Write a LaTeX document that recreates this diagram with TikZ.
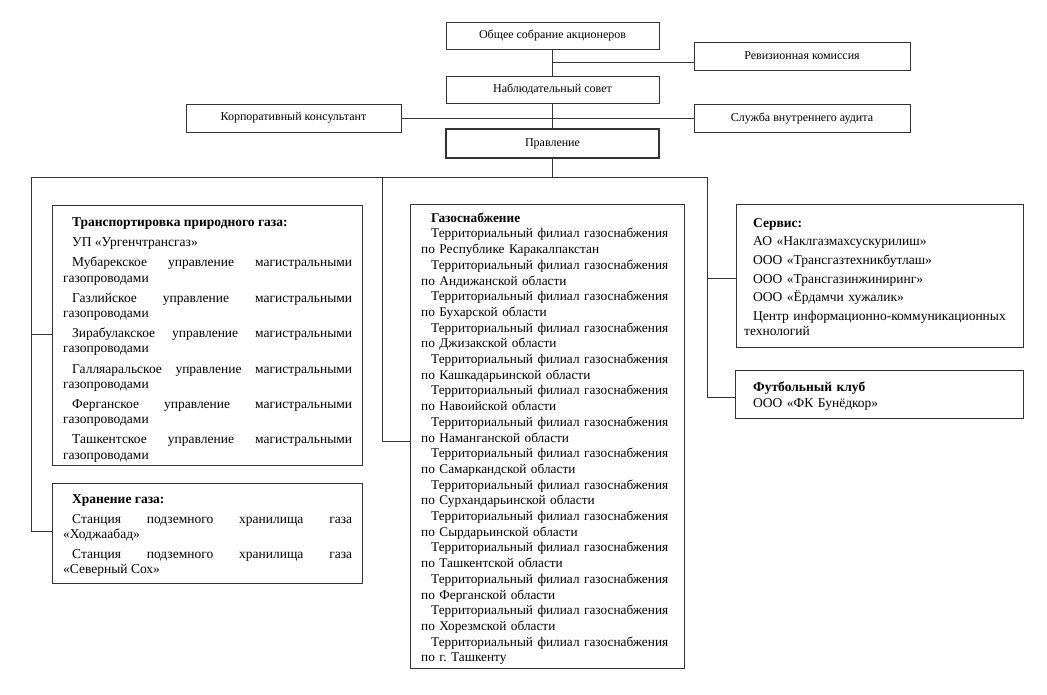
\documentclass[tikz,border=0pt]{standalone}
\usepackage{fontspec}
\setmainfont{Liberation Serif}
\frenchspacing
\newcommand{\ind}{\par\hspace*{9pt}}
\newcommand{\indg}{\par\hspace*{10pt}}
\begin{document}
\begin{tikzpicture}[x=1pt,y=-1pt,
  topbox/.style={draw=black!80, line width=0.7pt, inner sep=0pt, anchor=center, font=\fontsize{12}{14}\selectfont},
  box/.style={draw=black!80, line width=0.7pt, inner sep=0pt, anchor=north west},
  txt/.style={anchor=north west, inner sep=0pt, align=justify, font=\fontsize{13.5}{15.2}\selectfont},
  conn/.style={draw=black!80, line width=0.7pt}]
\useasboundingbox[fill=white] (0,0) rectangle (1047,694);

% top boxes
\node[topbox, minimum width=213pt, minimum height=27pt] (gsm) at (552.5,35.5) {Общее собрание акционеров};
\node[topbox, minimum width=216pt, minimum height=28pt] (rev) at (802,56) {Ревизионная комиссия};
\node[topbox, minimum width=213pt, minimum height=27pt] (nab) at (552.5,89.5) {Наблюдательный совет};
\node[topbox, minimum width=215pt, minimum height=28pt] (korp) at (293.5,118) {Корпоративный консультант};
\node[topbox, minimum width=216pt, minimum height=28pt] (aud) at (802,118) {Служба внутреннего аудита};
\node[topbox, line width=2pt, minimum width=213pt, minimum height=29pt] (prav) at (552.5,143.5) {Правление};

% lower boxes
\node[box, minimum width=310pt, minimum height=260pt] (trans) at (52,205) {};
\node[box, minimum width=310pt, minimum height=100pt] (stor) at (52,483) {};
\node[box, minimum width=274pt, minimum height=464pt] (gas) at (410,204) {};
\node[box, minimum width=287pt, minimum height=143pt] (serv) at (736,204) {};
\node[box, minimum width=288pt, minimum height=48pt] (fut) at (735,370) {};

% texts
\node[txt, text width=289pt] (transT) at (63,217.5) {\setlength\parskip{5pt}\hyphenpenalty=10000 %
\hspace*{9pt}\textbf{Транспортировка природного газа:}
\ind УП «Ургенчтрансгаз»
\ind Мубарекское управление магистральными\linebreak газопроводами
\ind Газлийское управление магистральными\linebreak газопроводами
\ind Зирабулакское управление магистральными\linebreak газопроводами
\ind Галляаральское управление магистральными\linebreak газопроводами
\ind Ферганское управление магистральными\linebreak газопроводами
\ind Ташкентское управление магистральными\linebreak газопроводами\par};

\node[txt, text width=289pt] (storT) at (63,494) {\setlength\parskip{5pt}\hyphenpenalty=10000 %
\hspace*{9pt}\textbf{Хранение газа:}
\ind Станция подземного хранилища газа\linebreak «Ходжаабад»
\ind Станция подземного хранилища газа\linebreak «Северный Сох»\par};

\node[txt, text width=255pt, align=left, font=\fontsize{13.3}{15.7}\selectfont] (gasT) at (421,212.5) {\hspace*{10pt}\textbf{Газоснабжение}
\indg Территориальный филиал газоснабжения\\по Республике Каракалпакстан
\indg Территориальный филиал газоснабжения\\по Андижанской области
\indg Территориальный филиал газоснабжения\\по Бухарской области
\indg Территориальный филиал газоснабжения\\по Джизакской области
\indg Территориальный филиал газоснабжения\\по Кашкадарьинской области
\indg Территориальный филиал газоснабжения\\по Навоийской области
\indg Территориальный филиал газоснабжения\\по Наманганской области
\indg Территориальный филиал газоснабжения\\по Самаркандской области
\indg Территориальный филиал газоснабжения\\по Сурхандарьинской области
\indg Территориальный филиал газоснабжения\\по Сырдарьинской области
\indg Территориальный филиал газоснабжения\\по Ташкентской области
\indg Территориальный филиал газоснабжения\\по Ферганской области
\indg Территориальный филиал газоснабжения\\по Хорезмской области
\indg Территориальный филиал газоснабжения\\по г. Ташкенту\par};

\node[txt, text width=275pt, align=left] (servT) at (744,218) {\setlength\parskip{3.5pt}%
\hspace*{9pt}\textbf{Сервис:}
\ind АО «Наклгазмахсускурилиш»
\ind ООО «Трансгазтехникбутлаш»
\ind ООО «Трансгазинжиниринг»
\ind ООО «Ёрдамчи хужалик»
\ind Центр информационно-коммуникационных\\технологий\par};

\node[txt, text width=275pt, align=left] (futT) at (744,382) {\hspace*{9pt}\textbf{Футбольный клуб}
\ind ООО «ФК Бунёдкор»\par};

% connectors
\draw[conn] (gsm) -- (nab);
\coordinate (r1) at (gsm.south |- 0,62);
\draw[conn] (r1) -- (r1 -| rev.west);
\draw[conn] (nab) -- (prav);
\draw[conn] (korp) -- (aud);
\coordinate (bus) at (prav.south |- 0,177);
\coordinate (busL) at (31,177);
\coordinate (busM) at (382,177);
\coordinate (busR) at (707,177);
\draw[conn] (prav) -- (bus);
\draw[conn] (busL) -- (busR);
\draw[conn] (busL) |- (stor.west |- 0,531);
\draw[conn] (busL |- 0,334) -- (trans.west |- 0,334);
\draw[conn] (busM) |- (gas.west |- 0,441);
\draw[conn] (busR) |- (fut.west |- 0,397);
\draw[conn] (busR |- 0,278) -- (serv.west |- 0,278);
\end{tikzpicture}
\end{document}
